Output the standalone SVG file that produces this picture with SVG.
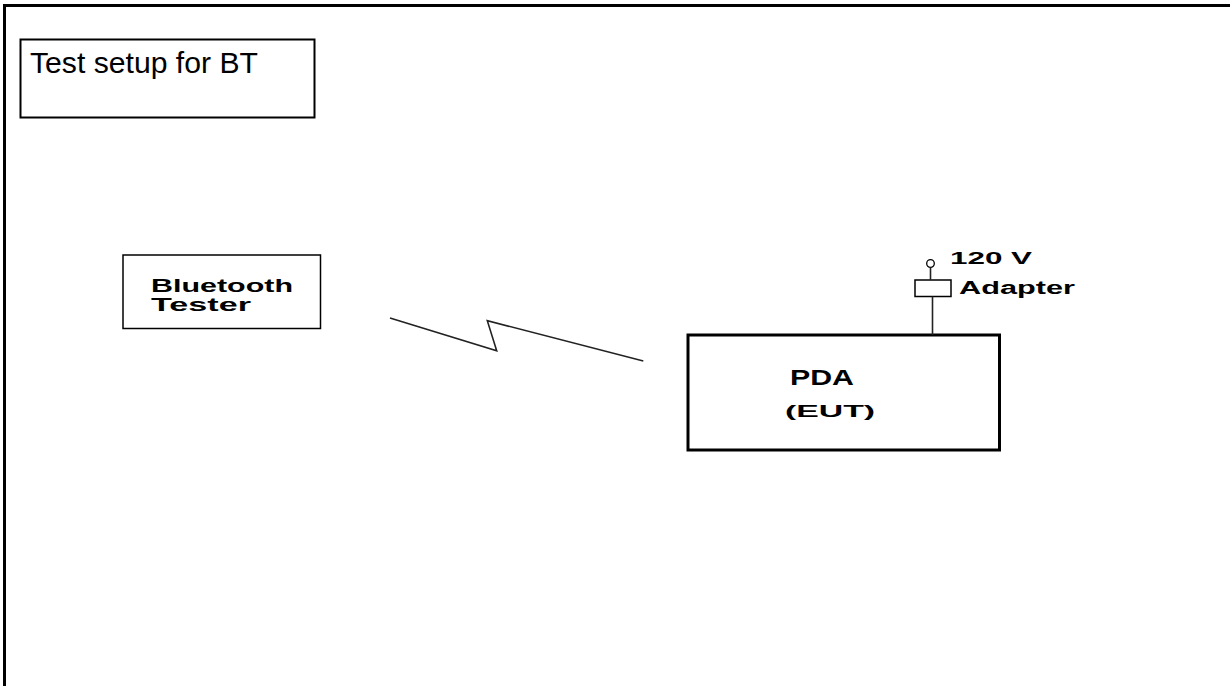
<svg xmlns="http://www.w3.org/2000/svg" width="1230" height="686" viewBox="0 0 1230 686">
<style>
.frame{stroke:#000;stroke-width:3;fill:none}
.box{fill:#fff;stroke:#000}
.lbl{font-family:"Liberation Sans",Arial,sans-serif;fill:#000}
.b{font-weight:bold}
.wire{stroke:#222;stroke-width:1.6;fill:none}
</style>
<rect width="1230" height="686" fill="#fff"/>
<g id="frame">
<path class="frame" d="M4.5,686 V5.5 H1230"/>
</g>
<g id="title">
<rect class="box" x="20.5" y="39.5" width="294" height="78" stroke-width="2"/>
<text class="lbl" x="30" y="73" font-size="29" textLength="228" lengthAdjust="spacingAndGlyphs">Test setup for BT</text>
</g>
<g id="bluetooth-tester">
<rect class="box" x="123" y="255" width="197.5" height="73.5" stroke-width="1.5" stroke="#444"/>
<text class="lbl b" x="151" y="292" font-size="18" textLength="142" lengthAdjust="spacingAndGlyphs">Bluetooth</text>
<text class="lbl b" x="151" y="311" font-size="18" textLength="100" lengthAdjust="spacingAndGlyphs">Tester</text>
</g>
<g id="pda">
<rect class="box" x="688" y="335" width="311.5" height="115" stroke-width="3"/>
<text class="lbl b" x="790" y="385" font-size="22" textLength="64" lengthAdjust="spacingAndGlyphs">PDA</text>
<text class="lbl b" x="785" y="417" font-size="16" textLength="90" lengthAdjust="spacingAndGlyphs">(EUT)</text>
</g>
<g id="adapter">
<circle cx="930.5" cy="263.5" r="3.8" fill="#fff" stroke="#000" stroke-width="1.3"/>
<rect class="box" x="915" y="280" width="36" height="16.5" stroke-width="1.5"/>
<text class="lbl b" x="950" y="264" font-size="16" textLength="82" lengthAdjust="spacingAndGlyphs">120  V</text>
<text class="lbl b" x="959" y="294" font-size="18" textLength="116" lengthAdjust="spacingAndGlyphs">Adapter</text>
</g>
<g id="connectors">
<path class="wire" d="M930.5,267.3 V280"/>
<path class="wire" d="M932.5,296.5 V335"/>
<path class="wire" d="M390,318 L496.7,350.7 L487.3,320.7 L643.3,361"/>
</g>
</svg>
